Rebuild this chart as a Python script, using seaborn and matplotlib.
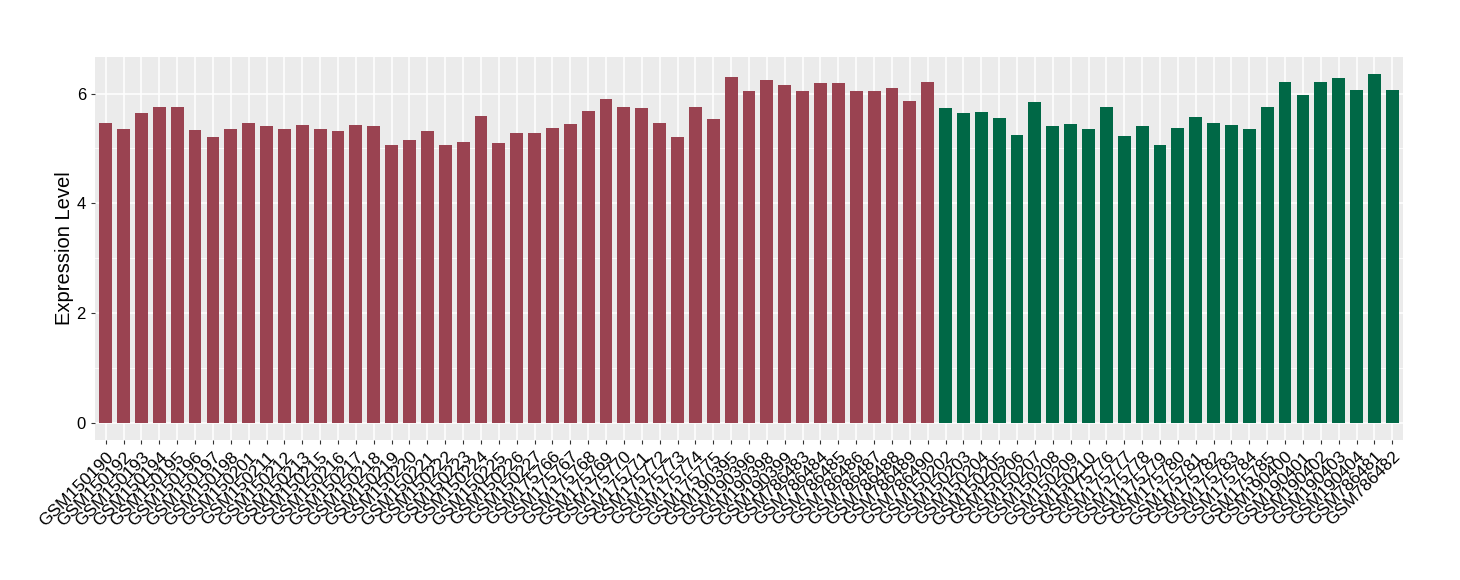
import matplotlib
matplotlib.use("Agg")
import matplotlib.pyplot as plt
import seaborn as sns
import pandas as pd

group1_samples = [
    "GSM150190", "GSM150192", "GSM150193", "GSM150194", "GSM150195", "GSM150196",
    "GSM150197", "GSM150198", "GSM150201", "GSM150211", "GSM150212", "GSM150213",
    "GSM150215", "GSM150216", "GSM150217", "GSM150218", "GSM150219", "GSM150220",
    "GSM150221", "GSM150222", "GSM150223", "GSM150224", "GSM150225", "GSM150226",
    "GSM150227", "GSM175766", "GSM175767", "GSM175768", "GSM175769", "GSM175770",
    "GSM175771", "GSM175772", "GSM175773", "GSM175774", "GSM175775", "GSM190395",
    "GSM190396", "GSM190398", "GSM190399", "GSM786483", "GSM786484", "GSM786485",
    "GSM786486", "GSM786487", "GSM786488", "GSM786489", "GSM786490",
]
group1_values = [
    5.47, 5.36, 5.65, 5.75, 5.75, 5.33, 5.20, 5.36, 5.47, 5.40, 5.36, 5.42,
    5.36, 5.31, 5.42, 5.40, 5.07, 5.15, 5.31, 5.07, 5.11, 5.60, 5.09, 5.29,
    5.29, 5.38, 5.45, 5.69, 5.91, 5.76, 5.73, 5.47, 5.20, 5.75, 5.53, 6.31,
    6.05, 6.25, 6.15, 6.04, 6.20, 6.20, 6.05, 6.05, 6.11, 5.87, 6.22,
]
group2_samples = [
    "GSM150202", "GSM150203", "GSM150204", "GSM150205", "GSM150206", "GSM150207",
    "GSM150208", "GSM150209", "GSM150210", "GSM175776", "GSM175777", "GSM175778",
    "GSM175779", "GSM175780", "GSM175781", "GSM175782", "GSM175783", "GSM175784",
    "GSM175785", "GSM190400", "GSM190401", "GSM190402", "GSM190403", "GSM190404",
    "GSM786481", "GSM786482",
]
group2_values = [
    5.73, 5.65, 5.67, 5.55, 5.24, 5.84, 5.40, 5.44, 5.35, 5.76, 5.22, 5.40,
    5.07, 5.38, 5.58, 5.47, 5.42, 5.36, 5.76, 6.22, 5.98, 6.22, 6.29, 6.07,
    6.35, 6.07,
]
y_ticks = [0, 2, 4, 6]
y_label = "Expression Level"

df = pd.DataFrame({
    "sample": group1_samples + group2_samples,
    "value": group1_values + group2_values,
    "group": ["g1"] * len(group1_samples) + ["g2"] * len(group2_samples),
})
order = group1_samples + group2_samples

fig = plt.figure(figsize=(14.6, 5.8), dpi=100)
ax = fig.add_axes([95 / 1460, 1 - 440 / 580, (1403 - 95) / 1460, (440 - 57) / 580])
ax.set_facecolor("#EBEBEB")

sns.barplot(data=df, x="sample", y="value", hue="group", order=order,
            palette={"g1": "#9A4351", "g2": "#006846"}, dodge=False,
            width=0.72, legend=False, ax=ax, saturation=1, linewidth=0)

n = len(order)
ax.set_xlim(-0.6, n - 1 + 0.6)
ymax = max(df["value"])
ax.set_ylim(-0.05 * ymax, ymax * 1.05)
ax.set_yticks(y_ticks)
ax.set_yticks([1, 3, 5], minor=True)
ax.grid(True, which="major", color="white", linewidth=1.1)
ax.grid(True, which="minor", axis="y", color="white", linewidth=0.55)
ax.set_axisbelow(True)
for s in ax.spines.values():
    s.set_visible(False)

ax.tick_params(axis="both", which="major", length=3, width=0.8, color="#333333",
               labelcolor="black", labelsize=12)
ax.tick_params(axis="y", which="minor", length=0)
ax.set_xticks(range(n))
ax.set_xticklabels(order, rotation=45, ha="right", va="top", rotation_mode="anchor",
                   fontsize=12.5, fontfamily="Liberation Sans")
for t in ax.get_yticklabels():
    t.set_fontfamily("Liberation Sans")
ax.set_xlabel("")
ax.set_ylabel(y_label, fontsize=14.5, fontfamily="Liberation Sans", va="center")
ax.yaxis.set_label_coords(-30 / 1308, 0.5)

fig.savefig("out.png", dpi=100)
